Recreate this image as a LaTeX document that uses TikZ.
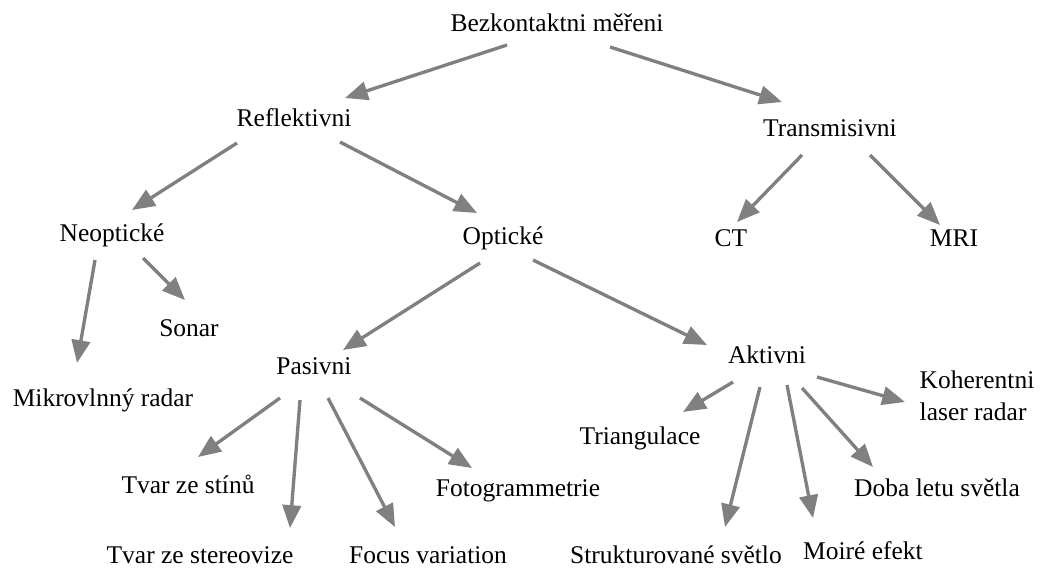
\documentclass[tikz,border=0pt]{standalone}
\usepackage{fontspec}
\setmainfont{Liberation Serif}
\usepackage{tikz}
\usetikzlibrary{arrows.meta, calc, positioning}

\begin{document}
\begin{tikzpicture}[x=0.02cm, y=-0.02cm]
		\tikzset{item/.style={inner sep=0, text height=10pt, text depth=3pt, font=\fontsize{14.5}{18}\selectfont}}
		\tikzset{ar/.style={-{Triangle[length=13pt, width=10.5pt]}, color=black!50, line width=1.9pt}}
		\useasboundingbox (0,0) rectangle (1043,569);
		\node[item] at (557,25) (bez) {Bezkontaktni měřeni};
		\node[item] at (294,120) (refl) {Reflektivni};
		\node[item] at (830,130) (trans) {Transmisivni};
		\node[item] at (112,235) (neopt) {Neoptické};
		\node[item] at (503,238) (opt) {Optické};
		\node[item] at (731,240) (ct) {CT};
		\node[item] at (954,240) (mri) {MRI};
		\node[item] at (189,330) (sonar) {Sonar};
		\node[item] at (103,400) (mikro) {Mikrovlnný radar};
		\node[item] at (314,368) (pas) {Pasivni};
		\node[item] at (767,357) (akt) {Aktivni};
		\node[item] at (188,487) (stiny) {Tvar ze stínů};
		\node[item] at (200,557) (stereo) {Tvar ze stereovize};
		\node[item] at (428,557) (focus) {Focus variation};
		\node[item] at (518,490) (foto) {Fotogrammetrie};
		\node[item] at (640,438) (tri) {Triangulace};
		\node[item] at (676,557) (strukt) {Strukturované světlo};
		\node[item] at (863,553) (moire) {Moiré efekt};
		\node[item] at (937,490) (doba) {Doba letu světla};
		\node[item, align=left] at (977,414) (koh) {Koherentni\\laser radar};
		% top levels
		\draw[ar] ($(bez)+(-50,20)$) -- ($(refl)+(51,-22)$);
		\draw[ar] ($(bez)+(53,22)$) -- ($(trans)+(-48,-28)$);
		\draw[ar] ($(refl)+(-57,23)$) -- ($(neopt)+(20,-25)$);
		\draw[ar] ($(refl)+(46,22)$) -- ($(opt)+(-26,-25)$);
		\draw[ar] ($(trans)+(-28,25)$) -- ($(ct)+(6,-18)$);
		\draw[ar] ($(trans)+(40,25)$) -- ($(mri)+(-14,-15)$);
		\draw[ar] ($(neopt)+(-17,25)$) -- ($(mikro)+(-26,-37)$);
		\draw[ar] ($(neopt)+(31,23)$) -- ($(sonar)+(-4,-30)$);
		\draw[ar] ($(opt)+(-23,25)$) -- ($(pas)+(29,-18)$);
		\draw[ar] ($(opt)+(30,22)$) -- ($(akt)+(-60,-12)$);
		% passive methods
		\draw[ar] ($(pas)+(-34,30)$) -- ($(stiny)+(10,-30)$);
		\draw[ar] ($(pas)+(-14,32)$) -- ($(stereo)+(90,-29)$);
		\draw[ar] ($(pas)+(14,30)$) -- ($(focus)+(-33,-30)$);
		\draw[ar] ($(pas)+(46,30)$) -- ($(foto)+(-46,-22)$);
		% active methods
		\draw[ar] ($(akt)+(-34,25)$) -- ($(tri)+(43,-26)$);
		\draw[ar] ($(akt)+(-7,30)$) -- ($(strukt)+(49,-30)$);
		\draw[ar] ($(akt)+(20,28)$) -- ($(moire)+(-50,-35)$);
		\draw[ar] ($(akt)+(35,31)$) -- ($(doba)+(-64,-23)$);
		\draw[ar] ($(akt)+(50,20)$) -- ($(koh)+(-72,-12)$);
	\end{tikzpicture}
\end{document}
